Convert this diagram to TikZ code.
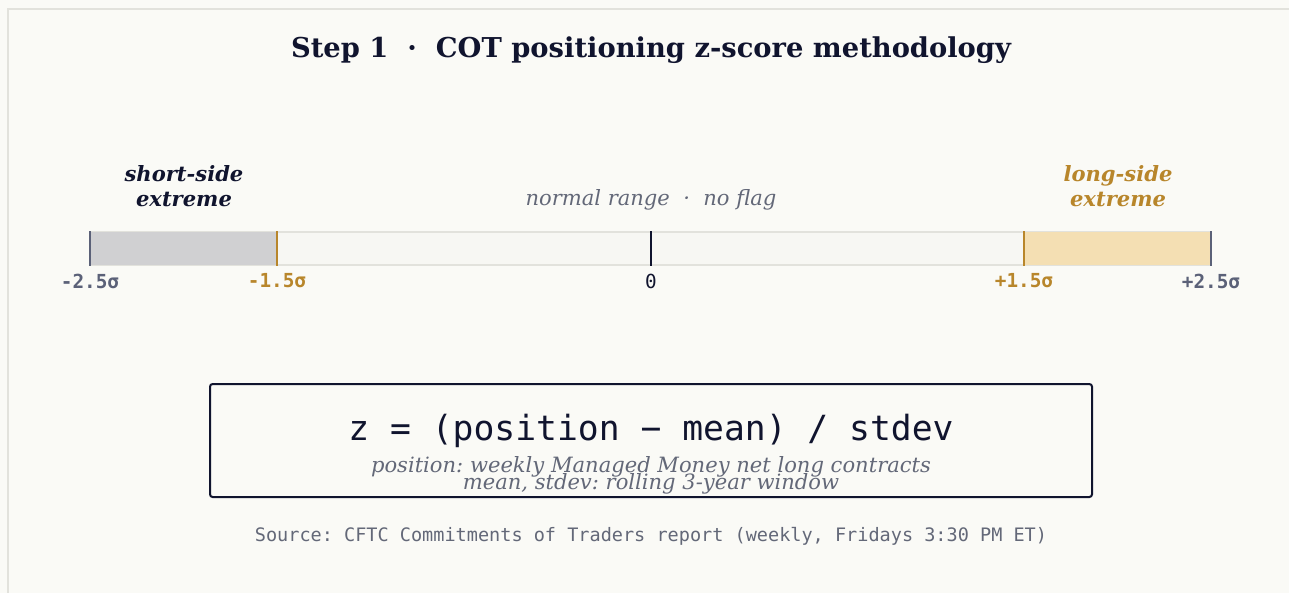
\documentclass[tikz,border=0pt]{standalone}
\usepackage{fontspec}
\setmainfont{DejaVu Serif}
\setmonofont{DejaVu Sans Mono}
\frenchspacing

\definecolor{pagebg}{HTML}{FAFAF6}
\definecolor{framegray}{HTML}{E2E2DC}
\definecolor{ink}{HTML}{10142E}
\definecolor{gold}{HTML}{B8862B}
\definecolor{slate}{HTML}{5B6178}
\definecolor{muted}{HTML}{636878}
\definecolor{shortfill}{HTML}{D0D0D2}
\definecolor{longfill}{HTML}{F4DFB3}
\definecolor{midfill}{HTML}{F7F7F3}

\tikzset{
  ticklbl/.style={font=\ttfamily\bfseries\fontsize{14.5}{16}\selectfont},
  sidelbl/.style={font=\bfseries\itshape\fontsize{15.8}{18.8}\selectfont, align=center},
  sigtick/.style={line width=2pt},
}

\begin{document}
\begin{tikzpicture}[x=0.75pt,y=-0.75pt]
  \useasboundingbox (0,0) rectangle (1289,593);
  \fill[pagebg] (0,0) rectangle (1289,593);
  \draw[framegray, line width=1.5pt] (8,593) -- (8,9) -- (1289,9);

  % title
  \node[ink, font=\bfseries\fontsize{20.5}{22}\selectfont] (title) at (651,50)
    {Step 1 \ · \ COT positioning z-score methodology};

  % the z-score bar
  \fill[midfill] (90,232) rectangle (1211,265);
  \draw[framegray, line width=1pt] (90,232) -- (1211,232);
  \draw[framegray, line width=1pt] (90,265) -- (1211,265);
  \fill[shortfill] (90,232) rectangle (277,265);
  \fill[longfill] (1024,232) rectangle (1211,265);

  \draw[sigtick, slate] (90,231) -- (90,266);
  \draw[sigtick, gold] (277,231) -- (277,266);
  \draw[sigtick, ink] (651,231) -- (651,266);
  \draw[sigtick, gold] (1024,231) -- (1024,266);
  \draw[sigtick, slate] (1211,231) -- (1211,266);

  \node[ticklbl, slate] (m25) at (90,281) {-2.5σ};
  \node[ticklbl, gold] (m15) at (277,281) {-1.5σ};
  \node[font=\ttfamily\fontsize{14.5}{16}\selectfont, ink] (zero) at (651,281) {0};
  \node[ticklbl, gold] (p15) at (1024,281) {+1.5σ};
  \node[ticklbl, slate] (p25) at (1211,281) {+2.5σ};

  \node[sidelbl, ink] (short) at (184,186) {short-side\\extreme};
  \node[sidelbl, gold] (long) at (1118,186) {long-side\\extreme};
  \node[muted, font=\itshape\fontsize{15.8}{18}\selectfont] (normal) at (651,200)
    {normal range \ · \ no flag};

  % formula box
  \draw[ink, line width=1.5pt, rounded corners=2pt] (210,384) rectangle (1092,497);
  \node[ink, font=\ttfamily\fontsize{26}{30}\selectfont] (formula) at (651,431)
    {z = (position − mean) / stdev};
  \node[muted, font=\itshape\fontsize{15.8}{17}\selectfont] (posline) at (651,467)
    {position: weekly Managed Money net long contracts};
  \node[muted, font=\itshape\fontsize{15.8}{17}\selectfont] (meanline) at (651,484)
    {mean, stdev: rolling 3-year window};

  \node[muted, font=\ttfamily\fontsize{13.9}{16}\selectfont] (source) at (651,536)
    {Source: CFTC Commitments of Traders report (weekly, Fridays 3:30 PM ET)};
\end{tikzpicture}
\end{document}
